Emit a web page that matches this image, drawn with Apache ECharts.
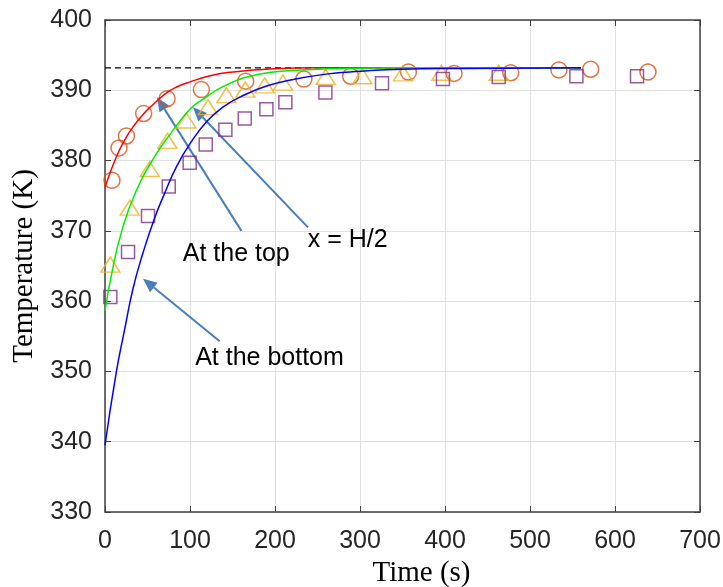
<!DOCTYPE html>
<html>
<head>
<meta charset="utf-8">
<script src="https://cdn.jsdelivr.net/npm/echarts/dist/echarts.min.js"></script>
<style>
    html, body { margin: 0; padding: 0; background: #fff; }
    #main { width: 723px; height: 587px; }
</style>
</head>
<body>
<div id="main"></div>
<script>
// 测量点 (t, T)
var topPts = [[8.2, 377.2], [16.5, 381.8], [25.2, 383.5], [45.5, 386.7], [73, 388.8], [113.4, 390.1],
    [165.5, 391.3], [234, 391.6], [289, 392.0], [357, 392.6], [410.6, 392.4], [477.3, 392.5],
    [534, 392.9], [571.4, 393.0], [638.8, 392.6]];
var midPts = [[6.3, 365.2], [29.2, 373.3], [52.6, 378.8], [73.4, 382.8], [95.8, 385.7], [121.2, 387.6],
    [142.8, 389.3], [165.2, 390.1], [187.9, 390.7], [209.4, 391.1], [259.6, 391.9], [302.8, 392.0],
    [350.6, 392.4], [395.8, 392.5], [463.2, 392.5]];
var botPts = [[6.3, 360.6], [27.1, 367.0], [50.6, 372.1], [75, 376.3], [99.6, 379.7], [118.5, 382.3],
    [141.6, 384.4], [164.4, 386.0], [189.9, 387.3], [212.2, 388.3], [259.3, 389.7], [325.9, 391.0],
    [397.6, 391.6], [463.2, 391.9], [554.6, 392.0], [625.9, 392.0]];

// 模拟曲线
var redCurve = [[0, 376.2], [8, 378.9], [17, 381.5], [25, 383.3], [33, 384.8], [45, 386.6], [55, 387.8],
    [72, 389.6], [85, 390.5], [100, 391.2], [125, 392.1], [150, 392.6], [190, 393.0], [250, 393.2],
    [350, 393.2], [560, 393.2]];
var greenCurve = [[0, 358.6], [10, 365.2], [21, 370.5], [35, 375.2], [56, 380.1], [80, 384.3], [100, 387.3],
    [115, 388.7], [140, 390.6], [178, 392.2], [220, 392.8], [280, 393.1], [350, 393.2], [560, 393.2]];
var blueCurve = [[0, 339.5], [13, 349.7], [23, 355.9], [33, 361.8], [45, 367.0], [58, 371.7], [70, 375.3],
    [84, 379.1], [100, 382.4], [120, 385.6], [140, 387.7], [160, 389.1], [190, 390.6], [220, 391.5],
    [260, 392.3], [300, 392.7], [350, 393.0], [420, 393.1], [560, 393.2]];
var steadyLine = [[0, 393.2], [560, 393.2]];

// 注释
var noteTexts = ['At the top', 'x = H/2', 'At the bottom'];
var notePos = [[154.4, 366.7], [285.5, 368.7], [193.5, 351.9]];
// 箭头: [尾t, 尾T, 头t, 头T]
var arrows = [[160.5, 370.0, 61.2, 389.0], [238.8, 370.5, 103.5, 387.6], [134.9, 354.3, 44.7, 363.2]];

var myChart = echarts.init(document.getElementById('main'));

var axisColor = '#404040';
var tickFont = 'Liberation Sans';

var option = {
    animation: false,
    grid: { left: 105, right: 23, top: 20, bottom: 75, containLabel: false, outerBoundsMode: 'none' },
    xAxis: [{
        type: 'value', min: 0, max: 700, interval: 100,
        position: 'bottom',
        axisLine: { onZero: false, lineStyle: { color: axisColor, width: 1.5 } },
        axisTick: { inside: true, length: 6, lineStyle: { color: axisColor } },
        axisLabel: { margin: 17, fontSize: 25, color: '#262626', fontFamily: tickFont },
        splitLine: { lineStyle: { color: '#e0e0e0' } },
        name: 'Time (s)', nameLocation: 'middle', nameGap: 44,
        nameTextStyle: { fontFamily: 'Liberation Serif', fontSize: 29, color: '#000', padding: [0, 0, 0, 38] }
    }, {
        type: 'value', min: 0, max: 700, interval: 100,
        position: 'top',
        axisLine: { onZero: false, lineStyle: { color: axisColor, width: 1.5 } },
        axisTick: { inside: true, length: 6, lineStyle: { color: axisColor } },
        axisLabel: { show: false },
        splitLine: { show: false }
    }],
    yAxis: [{
        type: 'value', min: 330, max: 400, interval: 10,
        position: 'left',
        axisLine: { show: true, onZero: false, lineStyle: { color: axisColor, width: 1.5 } },
        axisTick: { show: true, inside: true, length: 6, lineStyle: { color: axisColor } },
        axisLabel: { margin: 13, fontSize: 25, color: '#262626', fontFamily: tickFont },
        splitLine: { lineStyle: { color: '#e0e0e0' } },
        name: 'Temperature (K)', nameLocation: 'middle', nameGap: 66,
        nameTextStyle: { fontFamily: 'Liberation Serif', fontSize: 29, color: '#000' }
    }, {
        type: 'value', min: 330, max: 400, interval: 10,
        position: 'right',
        axisLine: { show: true, onZero: false, lineStyle: { color: axisColor, width: 1.5 } },
        axisTick: { show: true, inside: true, length: 6, lineStyle: { color: axisColor } },
        axisLabel: { show: false },
        splitLine: { show: false }
    }],
    series: [{
        type: 'line', data: steadyLine, symbol: 'none',
        lineStyle: { color: '#000', width: 1.3, type: [6, 4] }
    }, {
        type: 'line', data: redCurve, symbol: 'none', smooth: true,
        lineStyle: { color: '#ff0000', width: 1.5 }
    }, {
        type: 'line', data: greenCurve, symbol: 'none', smooth: true,
        lineStyle: { color: '#00ee00', width: 1.5 }
    }, {
        type: 'line', data: blueCurve, symbol: 'none', smooth: true,
        lineStyle: { color: '#0000ff', width: 1.5 }
    }, {
        type: 'scatter', data: topPts, symbol: 'circle', symbolSize: 16,
        itemStyle: { color: 'rgba(0,0,0,0)', borderColor: '#d95319', borderWidth: 1.5 }
    }, {
        type: 'scatter', data: midPts, symbol: 'triangle', symbolSize: [19, 15],
        itemStyle: { color: 'rgba(0,0,0,0)', borderColor: '#edb120', borderWidth: 1.5 }
    }, {
        type: 'scatter', data: botPts, symbol: 'rect', symbolSize: 13,
        itemStyle: { color: 'rgba(0,0,0,0)', borderColor: '#7e2f8e', borderWidth: 1.5 }
    }, {
        type: 'custom', data: arrows, encode: { x: [0, 2], y: [1, 3] },
        renderItem: function (params, api) {
            var p0 = api.coord([api.value(0), api.value(1)]);
            var p1 = api.coord([api.value(2), api.value(3)]);
            var dx = p1[0] - p0[0], dy = p1[1] - p0[1];
            var len = Math.sqrt(dx * dx + dy * dy);
            var ux = dx / len, uy = dy / len;
            var headL = 14, headW = 6;
            var bx = p1[0] - ux * headL, by = p1[1] - uy * headL;
            return {
                type: 'group',
                children: [{
                    type: 'line',
                    shape: { x1: p0[0], y1: p0[1], x2: bx, y2: by },
                    style: { stroke: '#4a7ebb', lineWidth: 2 }
                }, {
                    type: 'polygon',
                    shape: { points: [p1, [bx - uy * headW, by + ux * headW], [bx + uy * headW, by - ux * headW]] },
                    style: { fill: '#4a7ebb' }
                }]
            };
        }
    }, {
        type: 'custom', data: notePos,
        renderItem: function (params, api) {
            var p = api.coord([api.value(0), api.value(1)]);
            return {
                type: 'text',
                x: p[0], y: p[1],
                style: {
                    text: noteTexts[params.dataIndex],
                    fontSize: 25, fontFamily: tickFont, fill: '#000',
                    align: 'center', verticalAlign: 'middle'
                }
            };
        }
    }]
};

myChart.setOption(option);
window.addEventListener('resize', function () {
    myChart.resize();
});
</script>
</body>
</html>
